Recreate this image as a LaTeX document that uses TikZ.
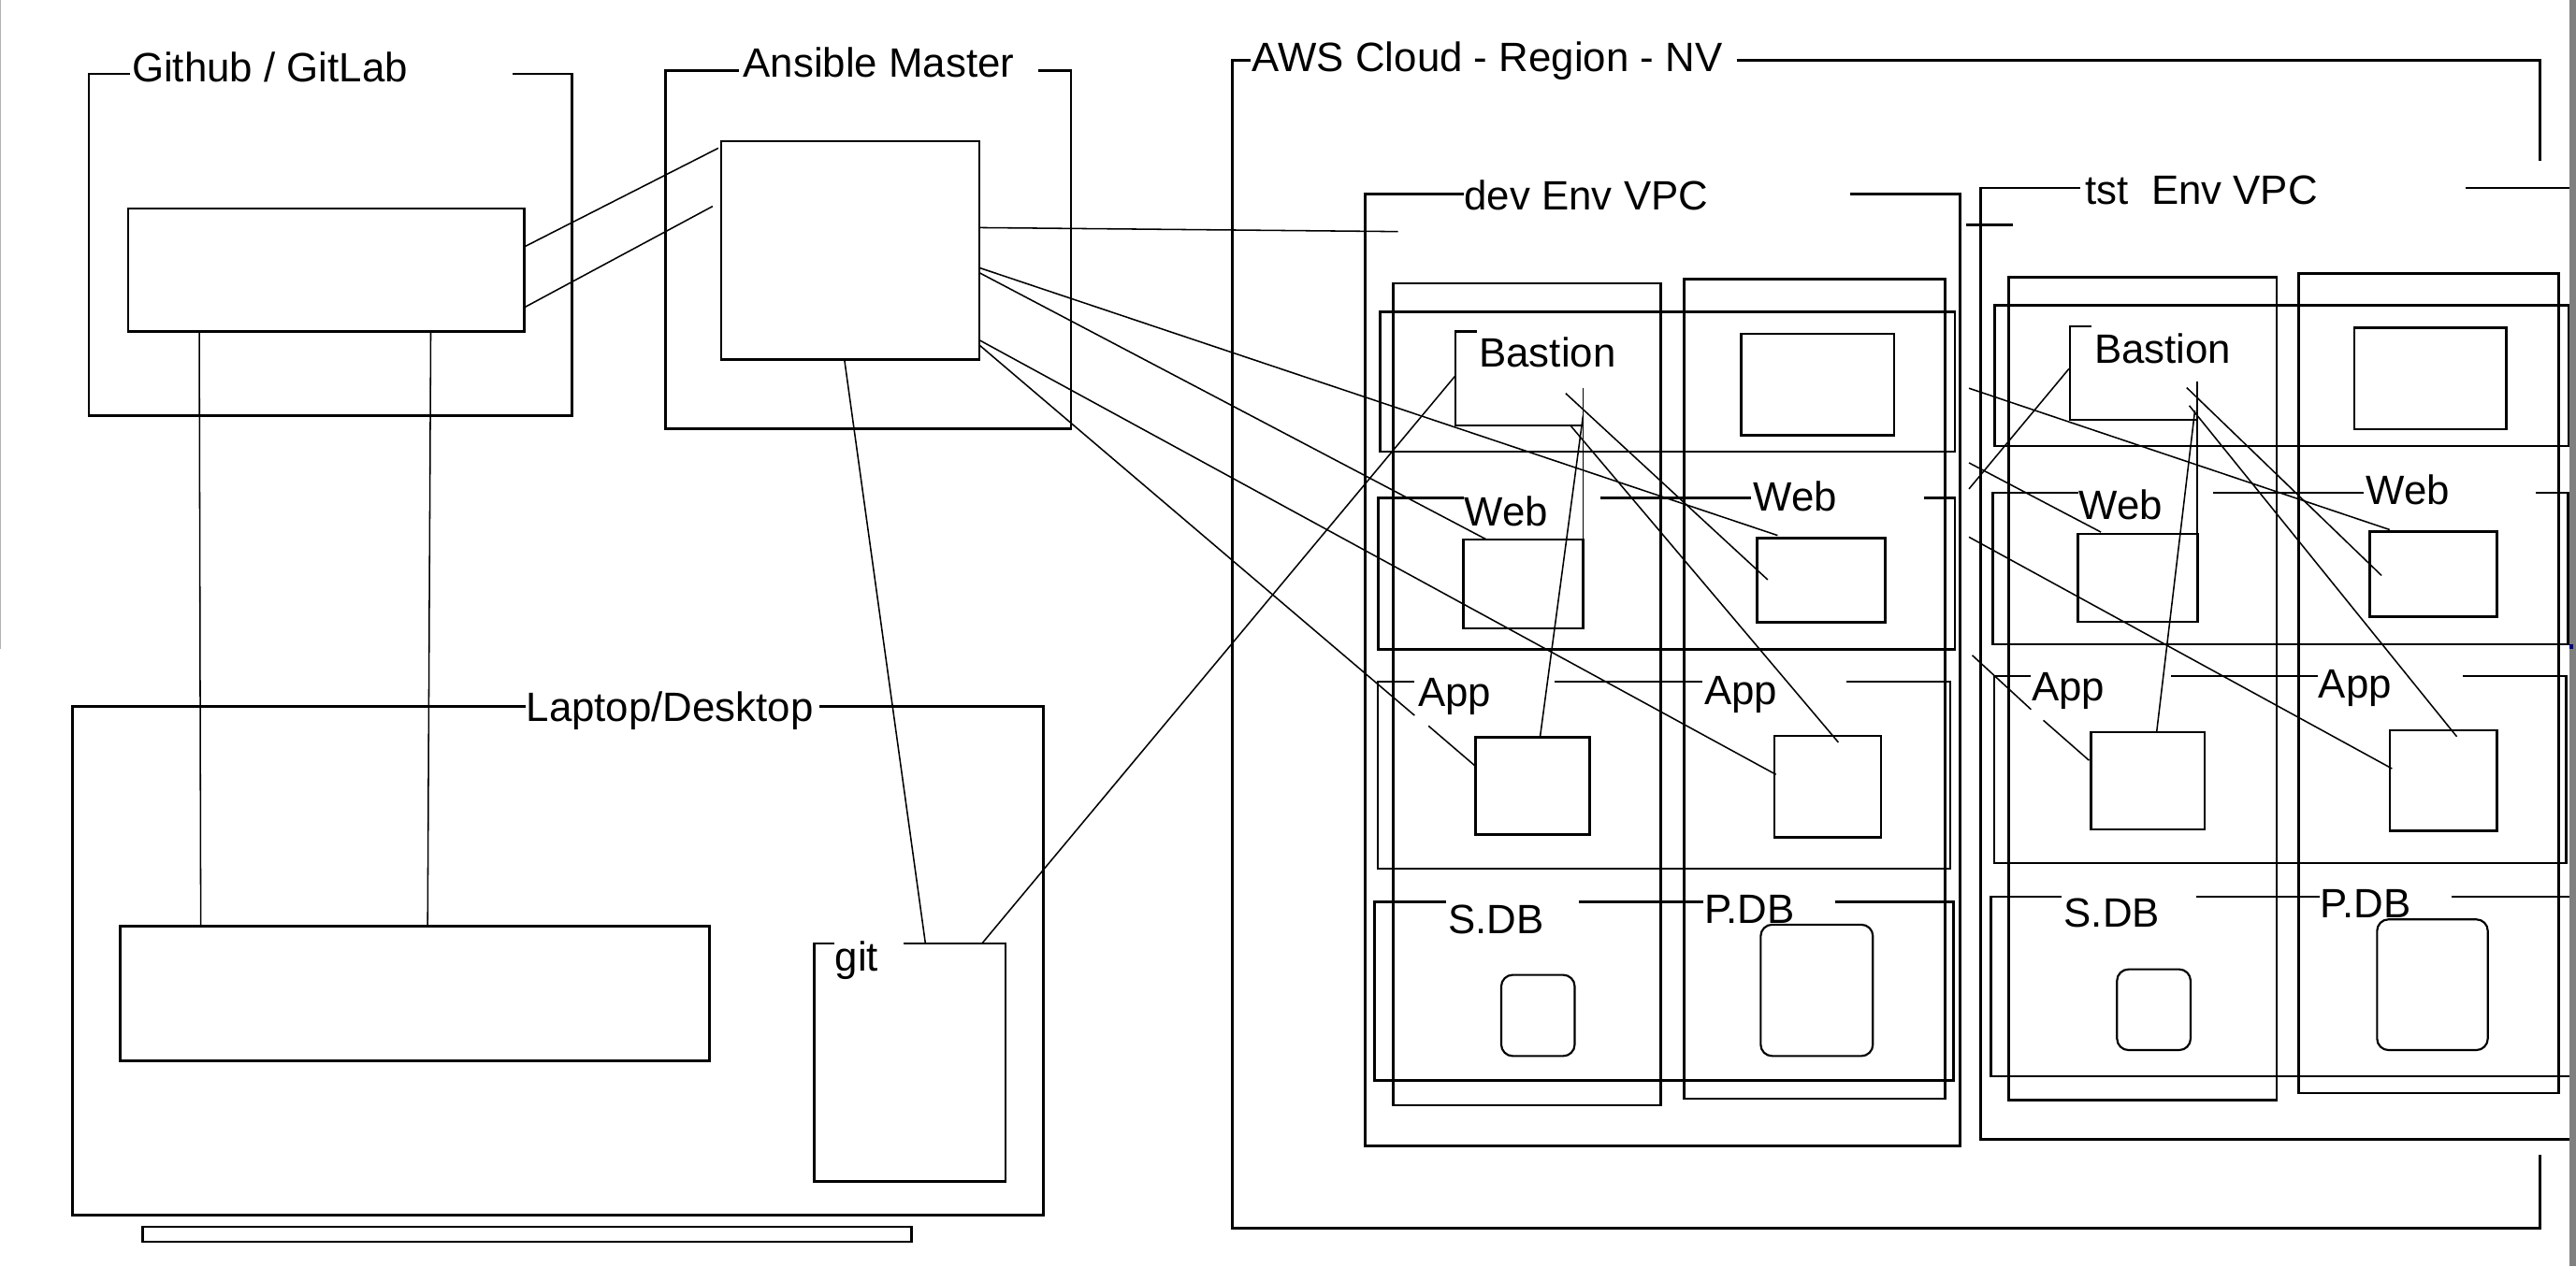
\documentclass[tikz,border=0pt]{standalone}
\usepackage{fontspec}
\setmainfont{Liberation Sans}
\usetikzlibrary{fit}

\begin{document}
\begin{tikzpicture}[x=0.02cm, y=-0.02cm,
outline/.style={line width=0.85pt},
box/.style={draw, line width=0.85pt, inner sep=0pt},
dbbox/.style={draw, line width=0.7pt, inner sep=0pt, rounded corners=0.14cm},
boxtitle/.style={anchor=base west, inner sep=0pt, font=\fontsize{14.2}{17}\selectfont},
link/.style={line width=0.5pt},
]

\useasboundingbox (0,0) rectangle (1568,771);

% Github / GitLab
\draw[outline] (312,45) -- (348,45) -- (348,253) -- (54,253) -- (54,45) -- (79,45);
\node (ghl) [boxtitle] at (80,50) {Github / GitLab};
\node (repo) [box, fit={(78,127) (319,202)}] {};

% Ansible Master
\draw[outline] (632,43) -- (652,43) -- (652,261) -- (405,261) -- (405,43) -- (450,43);
\node (aml) [boxtitle] at (452,47) {Ansible Master};
\node (master) [box, fit={(439,86) (596,219)}] {};

% Laptop/Desktop
\draw[outline] (499,430) -- (635,430) -- (635,740) -- (44,740) -- (44,430) -- (320,430);
\node (pcl) [boxtitle] at (320,439.4) {Laptop/Desktop};
\node (screen) [box, fit={(73,564) (432,646)}] {};
\draw[outline] (550,574.5) -- (612,574.5) -- (612,719.5) -- (495.6,719.5) -- (495.6,574.5) -- (508,574.5);
\node (gitl) [boxtitle] at (508,591) {git};
\node (stand) [box, fit={(87,747) (555,756)}] {};

% AWS Cloud
\draw[outline] (1057,36.6) -- (1546,36.6) -- (1546,98);
\draw[outline] (1546,703) -- (1546,748) -- (750,748) -- (750,36.6) -- (761,36.6);
\node (awsl) [boxtitle] at (762,43.5) {AWS Cloud - Region - NV};

% dev VPC
\draw[outline] (1126,118) -- (1193,118) -- (1193,697.6) -- (831,697.6) -- (831,118) -- (891,118);
\node (devl) [boxtitle] at (891,128) {dev Env VPC};
\node (devc1) [box, fit={(848,172.6) (1011,673)}] {};
\node (devc2) [box, fit={(1025,170) (1184,669)}] {};
\node (devr1) [box, fit={(840,190) (1190,275)}] {};
\draw[outline] (1171,303) -- (1190,303) -- (1190,395.5) -- (839,395.5) -- (839,303) -- (891,303) (974,303) -- (1066,303);
\draw[outline] (1124,415) -- (1187,415) -- (1187,529) -- (838.6,529) -- (838.6,415) -- (861,415) (946,415) -- (1036,415);
\draw[outline] (1117,549) -- (1189,549) -- (1189,658) -- (836.6,658) -- (836.6,549) -- (880,549) (961,549) -- (1037,549);
\draw[outline] (899,202) -- (886,202) -- (886,259) -- (963.6,259);
\node (devbl) [boxtitle] at (900,223.5) {Bastion};
\node (devbr) [box, fit={(1060,203.3) (1153,265)}] {};
\node (devwl1) [boxtitle] at (891,320.5) {Web};
\node (devwl2) [boxtitle] at (1067,311) {Web};
\node (devweb1) [box, fit={(890.6,328.6) (963.6,382.5)}] {};
\node (devweb2) [box, fit={(1069.5,327.5) (1147.5,379)}] {};
\node (deval1) [boxtitle] at (863,430) {App};
\node (deval2) [boxtitle] at (1037,429) {App};
\node (devapp1) [box, fit={(898,449) (967.6,508)}] {};
\node (devapp2) [box, fit={(1080,448) (1145,509.7)}] {};
\node (devsl) [boxtitle] at (881,568.5) {S.DB};
\node (devpl) [boxtitle] at (1037,562) {P.DB};
\node (devsdb) [dbbox, fit={(913.8,593.6) (958.5,643)}] {};
\node (devpdb) [dbbox, fit={(1071.7,563) (1140,643)}] {};

% tst VPC
\draw[outline] (1501,114.5) -- (1570,114.5);
\draw[outline] (1570,693.6) -- (1205.5,693.6) -- (1205.5,114.5) -- (1266,114.5);
\node (tstl) [boxtitle] at (1269,124.5) {tst\ \ Env VPC};
\node (tstc1) [box, fit={(1222.6,168.9) (1385.7,670)}] {};
\node (tstc2) [box, fit={(1399,166.7) (1557.5,665.6)}] {};
\node (tstr1) [box, fit={(1214,186) (1563.4,271.5)}] {};
\draw[outline] (1543.4,300) -- (1563,300) -- (1563,392.3) -- (1213,392.3) -- (1213,300) -- (1265,300) (1347,300) -- (1439,300);
\draw[outline] (1499,411.7) -- (1562,411.7) -- (1562,525.6) -- (1213.8,525.6) -- (1213.8,411.7) -- (1236,411.7) (1321.5,411.7) -- (1411,411.7);
\draw[outline] (1492,545.9) -- (1570,545.9) (1570,655.3) -- (1211.7,655.3) -- (1211.7,545.9) -- (1254.6,545.9) (1336.7,545.9) -- (1412,545.9);
\draw[outline] (1273,198.6) -- (1260,198.6) -- (1260,255.7) -- (1337.5,255.7);
\node (tstbl) [boxtitle] at (1274.5,221) {Bastion};
\node (tstbr) [box, fit={(1433,199.7) (1525.6,261.3)}] {};
\node (tstwl1) [boxtitle] at (1265,316.5) {Web};
\node (tstwl2) [boxtitle] at (1440,307) {Web};
\node (tstweb1) [box, fit={(1264.8,325) (1337.7,378.7)}] {};
\node (tstweb2) [box, fit={(1442.3,323.8) (1520,375.5)}] {};
\node (tstal1) [boxtitle] at (1236.5,426.5) {App};
\node (tstal2) [boxtitle] at (1411,425) {App};
\node (tstapp1) [box, fit={(1272.8,445.7) (1342,505)}] {};
\node (tstapp2) [box, fit={(1454.6,444.7) (1519.7,506)}] {};
\node (tstsl) [boxtitle] at (1256,564.7) {S.DB};
\node (tstpl) [boxtitle] at (1412,558.7) {P.DB};
\node (tstsdb) [dbbox, fit={(1288.6,590.2) (1333.4,639.4)}] {};
\node (tstpdb) [dbbox, fit={(1446.9,559.8) (1514.3,639.4)}] {};
\draw[outline] (1197,137) -- (1225,137);

% connector ends
\coordinate (r1) at (121.3,202);   \coordinate (s1) at (122.2,564);
\coordinate (r2) at (262.2,202);   \coordinate (s2) at (260.3,564);
\coordinate (r3) at (319.7,150);   \coordinate (m3) at (437.2,90.2);
\coordinate (r4) at (318.8,187.4); \coordinate (m4) at (433.8,125.6);
\coordinate (m5) at (514,219);     \coordinate (g5) at (563.3,574.5);
\coordinate (m6) at (596,138.6);   \coordinate (v6) at (851,141);
\coordinate (ma) at (596,163);     \coordinate (wa) at (1082,326);
\coordinate (mb) at (596,166);     \coordinate (wb) at (905,328.6);
\coordinate (mc) at (596,207);     \coordinate (ac) at (1081,471.6);
\coordinate (md) at (596,210);     \coordinate (dd1) at (861,435.6);
\coordinate (dd2) at (869.5,442);  \coordinate (ad) at (897.5,466);
\coordinate (bg) at (886,228.6);   \coordinate (gg) at (597.7,574.5);
\coordinate (bv1) at (963.6,236);  \coordinate (bv2) at (963.6,334);
\coordinate (bx1) at (963.6,253);  \coordinate (ax1) at (937.4,449);
\coordinate (bx2) at (953,239.5);  \coordinate (wx2) at (1076,353);
\coordinate (bx3) at (955.6,258.7);\coordinate (ax3) at (1119,452);
\coordinate (ta1) at (1198.5,236.4); \coordinate (ta2) at (1454.5,322.5);
\coordinate (tb1) at (1198.5,281.8); \coordinate (tb2) at (1278.8,324);
\coordinate (tc1) at (1198.5,327);   \coordinate (tc2) at (1456,468);
\coordinate (td1) at (1200.5,399);   \coordinate (td2) at (1236.3,432);
\coordinate (td3) at (1243.8,438.6); \coordinate (td4) at (1271.6,463);
\coordinate (tg1) at (1259.4,224.5); \coordinate (tg2) at (1198.5,297.7);
\coordinate (tv1) at (1337.5,232.4); \coordinate (tv2) at (1337.5,330);
\coordinate (tx1) at (1336,250);     \coordinate (tx2) at (1312.7,446);
\coordinate (ty1) at (1331,236);     \coordinate (ty2) at (1449.6,350.4);
\coordinate (tz1) at (1332.6,247);   \coordinate (tz2) at (1495.4,448.5);

% connectors
\draw[link] (r1) -- (s1);
\draw[link] (r2) -- (s2);
\draw[link] (r3) -- (m3);
\draw[link] (r4) -- (m4);
\draw[link] (m5) -- (g5);
\draw[link] (m6) -- (v6);
\draw[link] (ma) -- (wa);
\draw[link] (mb) -- (wb);
\draw[link] (mc) -- (ac);
\draw[link] (md) -- (dd1) (dd2) -- (ad);
\draw[link] (bg) -- (gg);
\draw[link] (bv1) -- (bv2);
\draw[link] (bx1) -- (ax1);
\draw[link] (bx2) -- (wx2);
\draw[link] (bx3) -- (ax3);
\draw[link] (ta1) -- (ta2);
\draw[link] (tb1) -- (tb2);
\draw[link] (tc1) -- (tc2);
\draw[link] (td1) -- (td2) (td3) -- (td4);
\draw[link] (tg1) -- (tg2);
\draw[link] (tv1) -- (tv2);
\draw[link] (tx1) -- (tx2);
\draw[link] (ty1) -- (ty2);
\draw[link] (tz1) -- (tz2);

% window edges
\fill[black!50] (1563.9,0) rectangle (1568,771);
\fill[blue!50!black] (1564,392) rectangle (1566.5,395);
\draw[black!30, line width=0.4pt] (0.3,0) -- (0.3,395);

\end{tikzpicture}
\end{document}
